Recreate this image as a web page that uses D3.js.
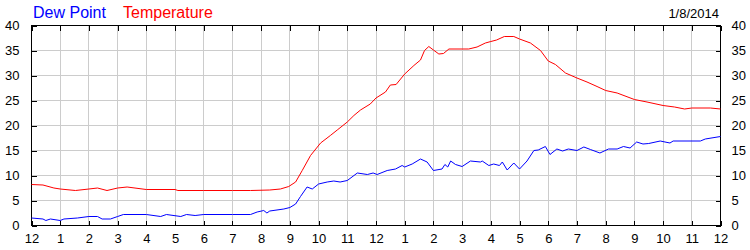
<!DOCTYPE html>
<html>
<head>
<meta charset="utf-8">
<script src="https://cdn.jsdelivr.net/npm/d3@7"></script>
<style>
  body { margin: 0; background: #fff; }
  svg { display: block; font-family: "Liberation Sans", Arial, sans-serif; }
</style>
</head>
<body>
<div id="chart"></div>
<script>
// Horas del día (0 = 12 am, 24 = 12 am del día siguiente)
const horasTicks = d3.range(0, 25);
const valoresTicks = d3.range(0, 45, 5);
const fecha = "1/8/2014";

// Temperatura (rojo)
const horasTemp = [0, 0.4, 0.78, 1, 1.53, 2, 2.3, 2.63, 3, 3.33, 4, 5, 5.1, 6, 7, 7.63, 8.3, 8.67, 8.96, 9.2,
  9.43, 9.72, 10.07, 10.41, 10.65, 11, 11.23, 11.46, 11.8, 12, 12.33, 12.5, 12.7, 13, 13.32, 13.55, 13.69, 13.84,
  14, 14.19, 14.35, 14.54, 15, 15.23, 15.52, 15.81, 16, 16.2, 16.47, 16.8, 17, 17.38, 17.73, 18, 18.25, 18.6,
  19, 19.35, 19.7, 20, 20.4, 21, 21.44, 22, 22.4, 22.75, 23, 23.65, 24];
const temperatura = [8.2, 8.1, 7.5, 7.3, 7.0, 7.3, 7.5, 7.0, 7.5, 7.7, 7.2, 7.2, 7.0, 7.0, 7.0, 7.0, 7.1, 7.3, 7.8, 8.7,
  11, 14, 16.5, 18, 19.1, 20.7, 22, 23.1, 24.3, 25.5, 26.7, 28.1, 28.2, 30.3, 32, 33.1, 35, 35.8,
  35.1, 34.3, 34.4, 35.3, 35.3, 35.3, 35.7, 36.5, 36.8, 37.1, 37.8, 37.8, 37.3, 36.5, 35, 32.9, 32.2, 30.5,
  29.5, 28.7, 27.8, 27, 26.5, 25.2, 24.7, 24, 23.7, 23.3, 23.5, 23.5, 23.3];

// Punto de rocío (azul)
const horasRocio = [0, 0.4, 0.5, 0.66, 1, 1.13, 1.6, 2, 2.3, 2.46, 2.75, 3, 3.2, 4, 4.5, 4.7, 5.2, 5.4, 5.7, 6, 7,
  7.63, 7.86, 8.09, 8.2, 8.3, 8.79, 9, 9.2, 9.37, 9.6, 9.78, 10, 10.3, 10.53, 10.75, 11, 11.35, 11.7, 11.9,
  12.04, 12.39, 12.68, 12.91, 13, 13.26, 13.55, 13.78, 14, 14.3, 14.4, 14.5, 14.6, 14.77, 15, 15.29, 15.64,
  15.7, 15.93, 16.1, 16.3, 16.4, 16.57, 16.8, 17, 17.26, 17.5, 17.65, 17.9, 18.06, 18.3, 18.5, 18.7, 19,
  19.24, 19.47, 19.8, 20.1, 20.4, 20.62, 20.85, 21.08, 21.3, 21.5, 21.9, 22.24, 22.35, 23.3, 23.47, 24];
const puntoRocio = [1.5, 1.3, 1.0, 1.3, 1.0, 1.3, 1.5, 1.8, 1.8, 1.3, 1.3, 1.8, 2.2, 2.2, 1.8, 2.2, 1.8, 2.2, 2.0, 2.2, 2.2,
  2.2, 2.7, 3.0, 2.5, 2.9, 3.3, 3.6, 4.3, 5.8, 7.7, 7.3, 8.3, 8.7, 8.9, 8.7, 9.0, 10.5, 10.2, 10.5,
  10.2, 11, 11.3, 12, 11.7, 12.3, 13.3, 12.7, 11, 11.3, 12.2, 11.7, 12.9, 12.2, 11.8, 12.9, 12.7,
  12.9, 12.0, 12.3, 12.0, 12.7, 11.1, 12.5, 11.3, 12.9, 15, 15.1, 15.8, 14.2, 15.3, 14.9, 15.3, 15,
  15.7, 15.2, 14.5, 15.3, 15.3, 15.8, 15.5, 16.7, 16.3, 16.4, 16.9, 16.5, 16.9, 16.9, 17.3, 17.8];

const width = 750, height = 250;
const izq = 31.5, der = 720.5, arriba = 25.5, abajo = 225.5;
const largoTick = 5;

const svg = d3.select("#chart").append("svg")
  .attr("width", width)
  .attr("height", height);

const x = d3.scaleLinear().domain([0, 24]).range([izq, der]);
const y = d3.scaleLinear().domain([0, 40]).range([abajo, arriba]);

// Rejilla
const rejilla = svg.append("g").attr("shape-rendering", "crispEdges").attr("stroke", "#cccccc");
rejilla.selectAll(".v").data(horasTicks.slice(1, -1)).enter().append("line")
  .attr("x1", d => x(d)).attr("x2", d => x(d)).attr("y1", arriba).attr("y2", abajo);
rejilla.selectAll(".h").data(valoresTicks.slice(1, -1)).enter().append("line")
  .attr("x1", izq).attr("x2", der).attr("y1", d => y(d)).attr("y2", d => y(d));

// Ejes con marcas hacia dentro
const etiquetaHora = d => (d % 12 === 0 ? 12 : d % 12);

function estiloEje(g) {
  g.attr("shape-rendering", "crispEdges");
  g.select(".domain").remove();
  g.selectAll(".tick line").attr("stroke", "#000");
  g.selectAll(".tick text").attr("fill", "#000").style("font-size", "13px");
}

svg.append("g").attr("transform", `translate(0,${abajo})`)
  .call(d3.axisBottom(x).tickValues(horasTicks).tickFormat(etiquetaHora).tickSize(-largoTick).tickPadding(8))
  .call(estiloEje)
  .call(g => g.selectAll(".tick text").attr("font-family", null));

svg.append("g").attr("transform", `translate(0,${arriba})`)
  .call(d3.axisTop(x).tickValues(horasTicks).tickFormat("").tickSize(-largoTick))
  .call(estiloEje);

svg.append("g").attr("transform", `translate(${izq},0)`)
  .call(d3.axisLeft(y).tickValues(valoresTicks).tickSize(-largoTick).tickPadding(12))
  .call(estiloEje);

svg.append("g").attr("transform", `translate(${der},0)`)
  .call(d3.axisRight(y).tickValues(valoresTicks).tickSize(-largoTick).tickPadding(11))
  .call(estiloEje);

svg.selectAll(".tick text").attr("font-family", null);

// Marco
svg.append("rect")
  .attr("x", izq).attr("y", arriba)
  .attr("width", der - izq).attr("height", abajo - arriba)
  .attr("fill", "none").attr("stroke", "#000")
  .attr("shape-rendering", "crispEdges");

// Líneas de datos
const linea = d3.line().x(d => x(d[0])).y(d => y(d[1]));

svg.append("path")
  .datum(d3.zip(horasRocio, puntoRocio))
  .attr("fill", "none").attr("stroke", "#0000ff").attr("stroke-width", 1)
  .attr("d", linea);

svg.append("path")
  .datum(d3.zip(horasTemp, temperatura))
  .attr("fill", "none").attr("stroke", "#ff0000").attr("stroke-width", 1)
  .attr("d", linea);

// Leyenda y fecha
svg.append("text").attr("x", 33).attr("y", 18)
  .style("font-size", "16px").attr("fill", "#0000ff").text("Dew Point");
svg.append("text").attr("x", 123).attr("y", 18)
  .style("font-size", "16px").attr("fill", "#ff0000").text("Temperature");
svg.append("text").attr("x", 719).attr("y", 18).attr("text-anchor", "end")
  .style("font-size", "13px").attr("fill", "#000").text(fecha);
</script>
</body>
</html>
